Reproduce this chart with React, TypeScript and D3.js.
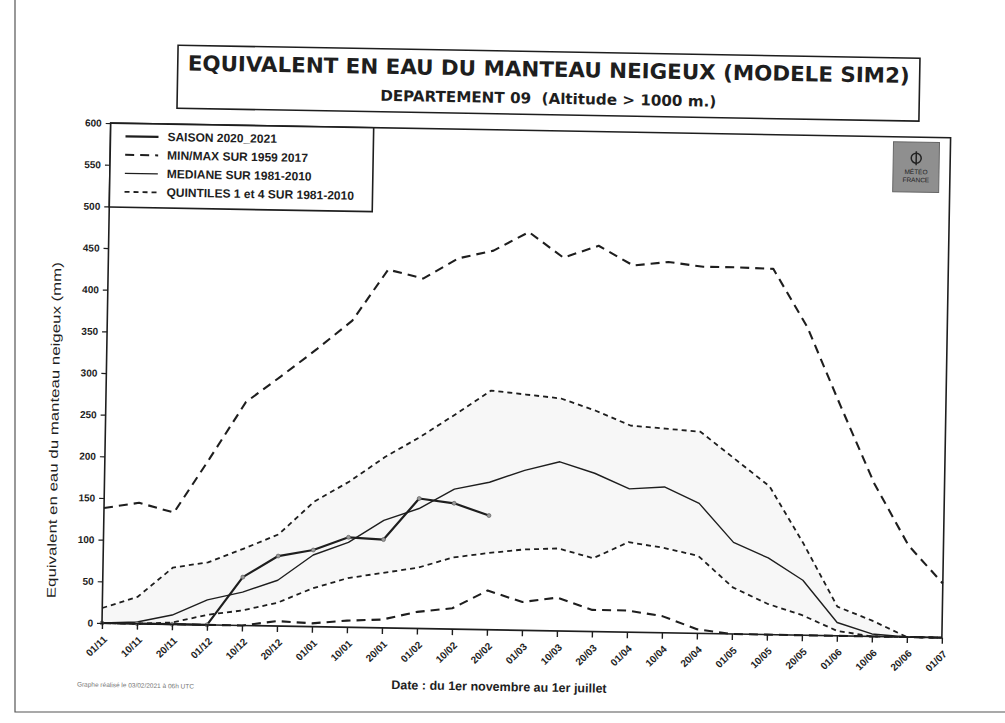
import React, { useEffect, useRef } from "react";
import * as d3 from "d3";

const dates = [
  "01/11", "10/11", "20/11", "01/12", "10/12", "20/12", "01/01", "10/01", "20/01",
  "01/02", "10/02", "20/02", "01/03", "10/03", "20/03", "01/04", "10/04", "20/04",
  "01/05", "10/05", "20/05", "01/06", "10/06", "20/06", "01/07",
];

const maxValues = [138, 145, 134, 200, 268, 300, 333, 368, 430, 420, 445, 455, 478, 448, 463, 440, 445, 440, 440, 439, 370, 275, 183, 110, 65];
const minValues = [0, 0, 0, 0, 0, 6, 4, 8, 10, 20, 25, 47, 34, 40, 26, 26, 20, 5, 0, 0, 0, 0, 0, 0, 0];
const q4Values = [18, 32, 68, 75, 92, 110, 150, 175, 205, 230, 258, 287, 283, 279, 265, 248, 245, 242, 210, 178, 110, 35, 19, 0, 0];
const q1Values = [0, 0, 2, 12, 18, 28, 46, 59, 66, 73, 86, 92, 97, 99, 88, 108, 102, 93, 56, 37, 24, 6, 0, 0, 0];
const medianValues = [0, 2, 11, 30, 40, 55, 86, 102, 129, 144, 168, 177, 192, 203, 190, 172, 175, 156, 110, 92, 66, 16, 3, 0, 0];
const seasonValues = [0, 0, 0, 0, 58, 84, 92, 108, 106, 156, 151, 137];

const yTicks = d3.range(0, 601, 50);

const legendItems = [
  { label: "SAISON 2020_2021", dash: null, width: 2.2 },
  { label: "MIN/MAX SUR 1959 2017", dash: "9,6", width: 2 },
  { label: "MEDIANE SUR 1981-2010", dash: null, width: 1.4 },
  { label: "QUINTILES 1 et 4 SUR 1981-2010", dash: "5,4", width: 1.8 },
];

const INK = "#1e1e1e";

const App = () => {
  const ref = useRef(null);

  useEffect(() => {
    const svg = d3.select(ref.current);
    svg.selectAll("*").remove();

    const left = 102, right = 942, top = 123, bottom = 623;
    const x = d3.scalePoint().domain(dates).range([left, right]);
    const y = d3.scaleLinear().domain([0, 600]).range([bottom, top]);

    // page frame of the scan
    svg.append("rect").attr("width", 1005).attr("height", 723).attr("fill", "#fff");
    svg.append("path")
      .attr("d", "M15,0 L15,712 L1005,712")
      .attr("fill", "none").attr("stroke", "#555").attr("stroke-width", 1.2);

    const g = svg.append("g").attr("transform", `rotate(1, ${left}, ${bottom})`);

    // title box
    g.append("rect")
      .attr("x", 168).attr("y", 44).attr("width", 742).attr("height", 63)
      .attr("fill", "#fff").attr("stroke", INK).attr("stroke-width", 1.6);
    g.append("text")
      .attr("x", 539).attr("y", 69).attr("text-anchor", "middle")
      .attr("font-family", "DejaVu Sans").attr("font-weight", "bold")
      .attr("font-size", 21).attr("fill", INK)
      .attr("textLength", 722).attr("lengthAdjust", "spacingAndGlyphs")
      .text("EQUIVALENT EN EAU DU MANTEAU NEIGEUX (MODELE SIM2)");
    g.append("text")
      .attr("x", 539).attr("y", 96).attr("text-anchor", "middle")
      .attr("font-family", "DejaVu Sans").attr("font-weight", "bold")
      .attr("font-size", 15).attr("fill", INK)
      .attr("textLength", 336).attr("lengthAdjust", "spacingAndGlyphs")
      .attr("xml:space", "preserve")
      .text("DEPARTEMENT 09  (Altitude > 1000 m.)");

    // faint band between quintiles
    const area = d3.area()
      .x((d, i) => x(dates[i]))
      .y0((d, i) => y(q1Values[i]))
      .y1((d) => y(d));
    g.append("path").datum(q4Values).attr("d", area).attr("fill", "#f7f7f7");

    const line = d3.line().x((d, i) => x(dates[i])).y((d) => y(d));

    const series = [
      { data: maxValues, dash: "9,6", width: 2.1 },
      { data: minValues, dash: "9,6", width: 2.1 },
      { data: q4Values, dash: "5,4", width: 1.8 },
      { data: q1Values, dash: "5,4", width: 1.8 },
      { data: medianValues, dash: null, width: 1.4 },
      { data: seasonValues, dash: null, width: 2.2 },
    ];
    series.forEach((s) => {
      g.append("path").datum(s.data).attr("d", line)
        .attr("fill", "none").attr("stroke", INK)
        .attr("stroke-width", s.width)
        .attr("stroke-dasharray", s.dash)
        .attr("stroke-linejoin", "round");
    });

    g.selectAll(".mk").data(seasonValues).enter().append("circle")
      .attr("cx", (d, i) => x(dates[i])).attr("cy", (d) => y(d)).attr("r", 2)
      .attr("fill", "#999").attr("stroke", "#555").attr("stroke-width", 0.6);

    // plot frame
    g.append("rect")
      .attr("x", left).attr("y", top).attr("width", right - left).attr("height", bottom - top)
      .attr("fill", "none").attr("stroke", INK).attr("stroke-width", 1.6);

    // y axis
    const yAxis = g.append("g").attr("transform", `translate(${left},0)`)
      .call(d3.axisLeft(y).tickValues(yTicks).tickSize(5).tickPadding(4));
    yAxis.select(".domain").remove();
    yAxis.selectAll("line").attr("stroke", INK).attr("stroke-width", 1.2);
    yAxis.selectAll("text")
      .attr("font-family", "Liberation Sans").attr("font-weight", "bold")
      .attr("font-size", 10).attr("fill", INK);

    // x axis
    const xAxis = g.append("g").attr("transform", `translate(0,${bottom})`)
      .call(d3.axisBottom(x).tickSize(6).tickFormat(() => ""));
    xAxis.select(".domain").remove();
    xAxis.selectAll("line").attr("stroke", INK).attr("stroke-width", 1.4);
    g.selectAll(".xl").data(dates).enter().append("text")
      .attr("transform", (d) => `translate(${x(d) + 6},${bottom + 17}) rotate(-45)`)
      .attr("text-anchor", "end")
      .attr("font-family", "Liberation Sans").attr("font-weight", "bold")
      .attr("font-size", 10).attr("fill", INK)
      .text((d) => d);

    g.append("text")
      .attr("transform", `translate(55,${(top + bottom) / 2 + 58}) rotate(-90)`)
      .attr("text-anchor", "middle")
      .attr("font-family", "Liberation Sans").attr("font-size", 12.5).attr("fill", INK)
      .attr("textLength", 336).attr("lengthAdjust", "spacingAndGlyphs")
      .text("Equivalent en eau du manteau neigeux (mm)");

    g.append("text")
      .attr("x", 500).attr("y", 684).attr("text-anchor", "middle")
      .attr("font-family", "Liberation Sans").attr("font-weight", "bold")
      .attr("font-size", 12.5).attr("fill", INK)
      .text("Date : du 1er novembre au 1er juillet");

    g.append("text")
      .attr("x", 78).attr("y", 687)
      .attr("font-family", "Liberation Sans").attr("font-size", 6.5).attr("fill", "#777")
      .text("Graphe réalisé le 03/02/2021 à 06h UTC");

    // legend
    const lg = g.append("g").attr("transform", `translate(${left},${top})`);
    lg.append("rect").attr("width", 263).attr("height", 84)
      .attr("fill", "#fff").attr("stroke", INK).attr("stroke-width", 1.6);
    legendItems.forEach((it, i) => {
      const cy = 13 + i * 18.5;
      lg.append("line").attr("x1", 15).attr("x2", 48).attr("y1", cy).attr("y2", cy)
        .attr("stroke", INK).attr("stroke-width", it.width).attr("stroke-dasharray", it.dash);
      lg.append("text").attr("x", 57).attr("y", cy + 4)
        .attr("font-family", "Liberation Sans").attr("font-weight", "bold")
        .attr("font-size", 12).attr("fill", INK)
        .text(it.label);
    });

    // logo
    const logo = g.append("g").attr("transform", "translate(885,128)");
    logo.append("rect").attr("width", 46).attr("height", 50).attr("fill", "#8f8f8f").attr("stroke", "#666");
    logo.append("circle").attr("cx", 23).attr("cy", 16).attr("r", 5).attr("fill", "none").attr("stroke", "#222").attr("stroke-width", 1.5);
    logo.append("line").attr("x1", 23).attr("x2", 23).attr("y1", 9).attr("y2", 23).attr("stroke", "#222").attr("stroke-width", 1.5);
    logo.append("text").attr("x", 23).attr("y", 32).attr("text-anchor", "middle")
      .attr("font-family", "Liberation Sans").attr("font-size", 6.5).attr("fill", "#222").text("MÉTÉO");
    logo.append("text").attr("x", 23).attr("y", 40).attr("text-anchor", "middle")
      .attr("font-family", "Liberation Sans").attr("font-size", 6.5).attr("fill", "#222").text("FRANCE");
  }, []);

  return (
    <svg ref={ref} width={1005} height={723} style={{ position: "absolute", left: 0, top: 0 }} />
  );
};

export default App;
